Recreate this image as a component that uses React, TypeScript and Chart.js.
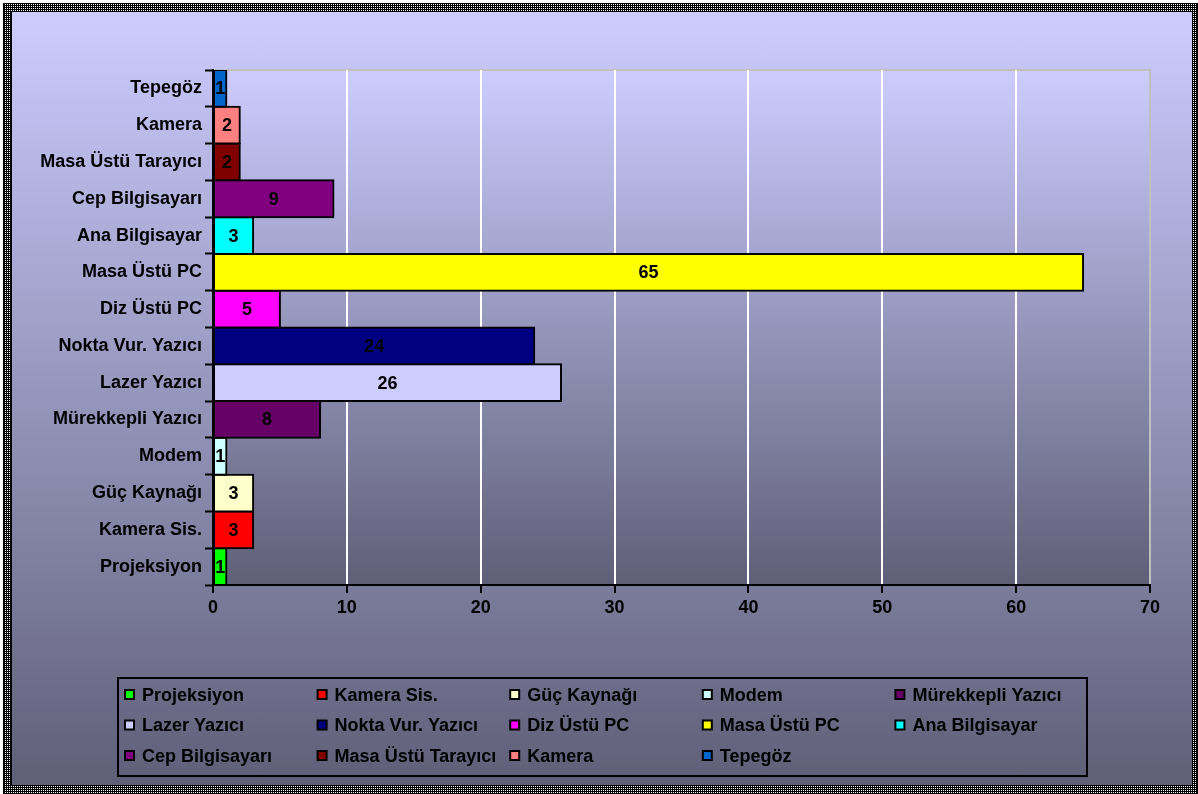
import React, { useEffect, useRef } from "react";
import { Chart, registerables } from "chart.js";

Chart.register(...registerables);

const categories = [
  "Projeksiyon",
  "Kamera Sis.",
  "Güç Kaynağı",
  "Modem",
  "Mürekkepli Yazıcı",
  "Lazer Yazıcı",
  "Nokta Vur. Yazıcı",
  "Diz Üstü PC",
  "Masa Üstü PC",
  "Ana Bilgisayar",
  "Cep Bilgisayarı",
  "Masa Üstü Tarayıcı",
  "Kamera",
  "Tepegöz",
];

const values = [1, 3, 3, 1, 8, 26, 24, 5, 65, 3, 9, 2, 2, 1];

const barColors = [
  "#00FF00",
  "#FF0000",
  "#FFFFCC",
  "#CCFFFF",
  "#660066",
  "#CCCCFF",
  "#000080",
  "#FF00FF",
  "#FFFF00",
  "#00FFFF",
  "#800080",
  "#800000",
  "#FF8080",
  "#0066CC",
];

const xTicks = [0, 10, 20, 30, 40, 50, 60, 70];

const FONT = "'Liberation Sans', Arial, Helvetica, sans-serif";
const CANVAS_W = 1180;
const CANVAS_H = 773;

const plotBgPlugin = {
  id: "plotBg",
  beforeDraw(chart: any) {
    const { ctx, chartArea } = chart;
    const { left, top, right, bottom } = chartArea;
    ctx.save();
    const g = ctx.createLinearGradient(0, top, 0, bottom);
    g.addColorStop(0, "#CCCCFF");
    g.addColorStop(1, "#5F5F78");
    ctx.fillStyle = g;
    ctx.fillRect(left, top, right - left, bottom - top);
    ctx.strokeStyle = "#C0C0C0";
    ctx.lineWidth = 2;
    ctx.beginPath();
    ctx.moveTo(left, top);
    ctx.lineTo(right, top);
    ctx.lineTo(right, bottom);
    ctx.stroke();
    ctx.restore();
  },
};

const dataLabelPlugin = {
  id: "dataLabels",
  afterDatasetsDraw(chart: any) {
    const { ctx } = chart;
    const meta = chart.getDatasetMeta(0);
    const ds = chart.data.datasets[0];
    ctx.save();
    ctx.font = `bold 18px ${FONT}`;
    ctx.fillStyle = "#000";
    ctx.textAlign = "center";
    ctx.textBaseline = "middle";
    meta.data.forEach((el: any, i: number) => {
      const cx = (el.x + el.base) / 2;
      ctx.fillText(String(ds.data[i]), cx, el.y + 1);
    });
    ctx.restore();
  },
};

const legendPlugin = {
  id: "gridLegend",
  afterDraw(chart: any) {
    const { ctx } = chart;
    const labels: string[] = chart.data.labels;
    const colors: string[] = chart.data.datasets[0].backgroundColor;
    ctx.save();
    ctx.strokeStyle = "#000";
    ctx.lineWidth = 2;
    ctx.strokeRect(106, 666, 969, 98);
    ctx.font = `bold 18px ${FONT}`;
    ctx.textAlign = "left";
    ctx.textBaseline = "middle";
    const cols = 5;
    labels.forEach((lab, i) => {
      const c = i % cols;
      const r = Math.floor(i / cols);
      const mx = 113 + c * 192.6;
      const my = 683 + r * 30.5;
      ctx.fillStyle = colors[i];
      ctx.fillRect(mx, my - 5, 9, 9);
      ctx.lineWidth = 2;
      ctx.strokeStyle = "#000";
      ctx.strokeRect(mx, my - 5, 9, 9);
      ctx.fillStyle = "#000";
      ctx.fillText(lab, mx + 17, my + 1);
    });
    ctx.restore();
  },
};

export default function App() {
  const canvasRef = useRef<HTMLCanvasElement | null>(null);

  useEffect(() => {
    if (!canvasRef.current) return;
    Chart.defaults.font.family = FONT;
    const chart = new Chart(canvasRef.current, {
      type: "bar",
      data: {
        labels: categories,
        datasets: [
          {
            data: values,
            backgroundColor: barColors,
            borderColor: "#000",
            borderWidth: 2,
            borderSkipped: false,
            inflateAmount: 1,
            barPercentage: 1,
            categoryPercentage: 1,
          } as any,
        ],
      },
      options: {
        indexAxis: "y",
        responsive: false,
        animation: false,
        events: [],
        layout: { padding: { left: 0, top: 58, right: 42, bottom: 160 } },
        plugins: {
          legend: { display: false },
          tooltip: { enabled: false },
          title: { display: false },
        },
        scales: {
          x: {
            type: "linear",
            min: 0,
            max: 70,
            afterFit: (s: any) => {
              s.height = 40;
            },
            afterBuildTicks: (s: any) => {
              s.ticks = xTicks.map((v) => ({ value: v }));
            },
            ticks: {
              color: "#000",
              font: { family: FONT, size: 18, weight: "bold" },
              padding: 4,
            },
            grid: {
              color: (c: any) =>
                c.tick && (c.tick.value === 0 || c.tick.value === 70) ? "rgba(0,0,0,0)" : "#FFFFFF",
              lineWidth: 2,
              tickColor: "#000",
              tickWidth: 2,
              tickLength: 8,
              drawTicks: true,
            },
            border: { display: true, color: "#000", width: 2 },
          },
          y: {
            type: "category",
            reverse: true,
            afterFit: (s: any) => {
              s.width = 201;
            },
            ticks: {
              color: "#000",
              font: { family: FONT, size: 18, weight: "bold" },
              padding: 3,
            },
            grid: {
              offset: true,
              color: "rgba(0,0,0,0)",
              tickColor: "#000",
              tickWidth: 2,
              tickLength: 8,
              drawTicks: true,
            },
            border: { display: true, color: "#000", width: 2 },
          },
        },
      } as any,
      plugins: [plotBgPlugin, dataLabelPlugin, legendPlugin],
    });
    return () => chart.destroy();
  }, []);

  return (
    <div
      style={{
        position: "fixed",
        left: 3,
        top: 3,
        width: 1195,
        height: 791,
        boxSizing: "border-box",
        border: "1px solid #000",
        padding: "7px 4px 7px 7px",
        background: "repeating-conic-gradient(#fff 0% 25%, #000 0% 100%) 0 0 / 2px 2px",
      }}
    >
      <div
        style={{
          width: "100%",
          height: "100%",
          boxSizing: "border-box",
          border: "1px solid #000",
          background: "linear-gradient(to bottom, #CCCCFF 0%, #5F5F78 100%)",
          position: "relative",
        }}
      >
        <canvas
          ref={canvasRef}
          width={CANVAS_W}
          height={CANVAS_H}
          style={{ display: "block", width: CANVAS_W, height: CANVAS_H }}
        />
      </div>
    </div>
  );
}
